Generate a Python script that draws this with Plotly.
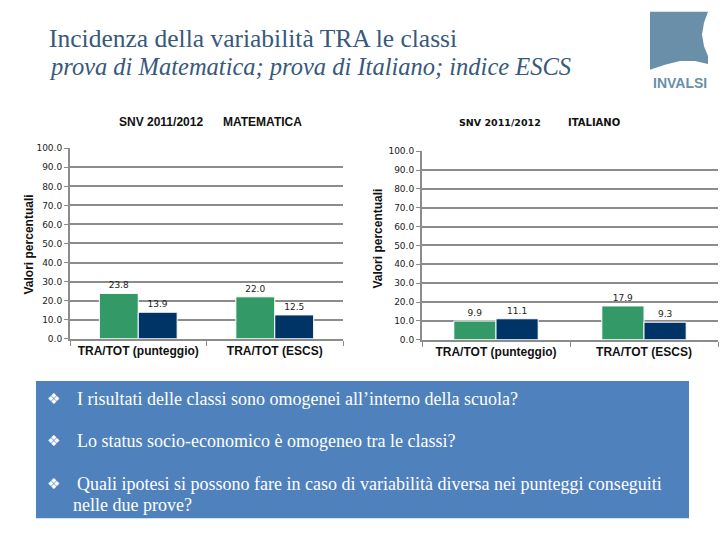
import plotly.graph_objects as go

# ---- data ----
categories = ["TRA/TOT (punteggio)", "TRA/TOT (ESCS)"]
mat_green = [23.8, 22.0]
mat_navy = [13.9, 12.5]
ita_green = [9.9, 17.9]
ita_navy = [11.1, 9.3]
y_ticks = [0, 10, 20, 30, 40, 50, 60, 70, 80, 90, 100]
y_tick_labels = [f"{v:.1f}" for v in y_ticks]

W, H = 720, 540
def px(x):
    return x / W
def py(y):
    return 1 - y / H

GREEN = "#339966"
NAVY = "#003366"
GRID = "#8c8c8c"
TXT = "#222222"

fig = go.Figure()
for xa, ya, g, n in [("x", "y", mat_green, mat_navy), ("x2", "y2", ita_green, ita_navy)]:
    for vals, col in [(g, GREEN), (n, NAVY)]:
        fig.add_trace(go.Bar(
            x=categories, y=vals, xaxis=xa, yaxis=ya,
            marker=dict(color=col, line=dict(color="white", width=1)),
            text=[f"{v:.1f}" for v in vals], textposition="outside",
            textfont=dict(family="DejaVu Sans", size=9, color=TXT),
            cliponaxis=False, showlegend=False, hoverinfo="skip"))

yax = dict(range=[0, 100], tickvals=y_ticks, ticktext=y_tick_labels,
           showgrid=True, gridcolor=GRID, gridwidth=2,
           showline=True, linecolor=GRID, linewidth=2,
           ticks="outside", ticklen=4, tickcolor=GRID, tickwidth=1,
           zeroline=False, fixedrange=True,
           tickfont=dict(family="DejaVu Sans", size=9, color=TXT))
xax = dict(showline=True, linecolor=GRID, linewidth=2,
           ticks="outside", tickson="boundaries", ticklen=5, tickcolor=GRID,
           tickfont=dict(family="Liberation Sans", size=12, color="#111111"),
           showgrid=False, fixedrange=True)

fig.update_layout(
    width=W, height=H, margin=dict(l=0, r=0, t=0, b=0),
    paper_bgcolor="white", plot_bgcolor="white",
    barmode="group", bargap=0.43, bargroupgap=0,
    xaxis=dict(domain=[px(70), px(343)], anchor="y", **xax),
    yaxis=dict(domain=[py(340), py(146)], anchor="x", **yax),
    xaxis2=dict(domain=[px(422), px(718)], anchor="y2", **xax),
    yaxis2=dict(domain=[py(341), py(149)], anchor="x2", **yax),
)
fig.update_xaxes(ticktext=["<b>" + c + "</b>" for c in categories], tickvals=categories)

ann = []
def A(text, x, y, size, family="Liberation Sans", color="#111111", xanchor="left",
      yanchor="middle", angle=0):
    ann.append(dict(text=text, x=px(x), y=py(y), xref="paper", yref="paper",
                    showarrow=False, xanchor=xanchor, yanchor=yanchor, textangle=angle,
                    font=dict(family=family, size=size, color=color)))

TITLE_C = "#37597C"
A("Incidenza della variabilità TRA le classi", 47, 34, 25.5, "Liberation Serif", TITLE_C)
A("<i>prova di Matematica; prova di Italiano; indice ESCS</i>", 47, 63, 24.5,
  "Liberation Serif", TITLE_C)

A("<b>SNV 2011/2012</b>", 117, 119, 12)
A("<b>MATEMATICA</b>", 221, 119, 12)
A("<b>SNV 2011/2012</b>", 457, 120, 9.5, "DejaVu Sans")
A("<b>ITALIANO</b>", 566, 120, 10, "DejaVu Sans")

A("<b>Valori percentuali</b>", 29, 244, 12, angle=-90, xanchor="center")
A("<b>Valori percentuali</b>", 378, 238, 12, angle=-90, xanchor="center")

# logo
LOGO = "#6A8FA8"
pts = [(650, 7), (708, 7), (704, 18), (702, 30), (704, 42), (708, 52), (708, 60),
       (695, 57), (680, 57), (665, 61), (650, 66)]
path = "M " + " L ".join(f"{px(x):.5f},{py(y):.5f}" for x, y in pts) + " Z"
shapes = [dict(type="path", path=path, xref="paper", yref="paper",
               fillcolor=LOGO, line=dict(width=0), layer="above")]
A("<b>INVALSI</b>", 680, 79, 14, "Liberation Sans Narrow, Liberation Sans", LOGO,
  xanchor="center")

# blue box
shapes.append(dict(type="rect", xref="paper", yref="paper",
                   x0=px(36), x1=px(689), y0=py(523), y1=py(383),
                   fillcolor="#4F81BD", line=dict(width=0), layer="above"))
WH = "white"
for yline, txt in [(401, "I risultati delle classi sono omogenei all’interno della scuola?"),
                   (444, "Lo status socio-economico è omogeneo tra le classi?"),
                   (488, "Quali ipotesi si possono fare in caso di variabilità diversa nei punteggi conseguiti")]:
    A("❖", 53, yline, 15, "DejaVu Sans", WH, xanchor="center")
    A(txt, 75, yline, 18, "Liberation Serif", WH)
A("nelle due prove?", 71, 509, 18, "Liberation Serif", WH)

fig.update_layout(annotations=ann, shapes=shapes)
fig.write_html("out.html", config={"displayModeBar": False},
               post_script="document.body.style.margin='0';document.body.style.overflow='hidden';")
